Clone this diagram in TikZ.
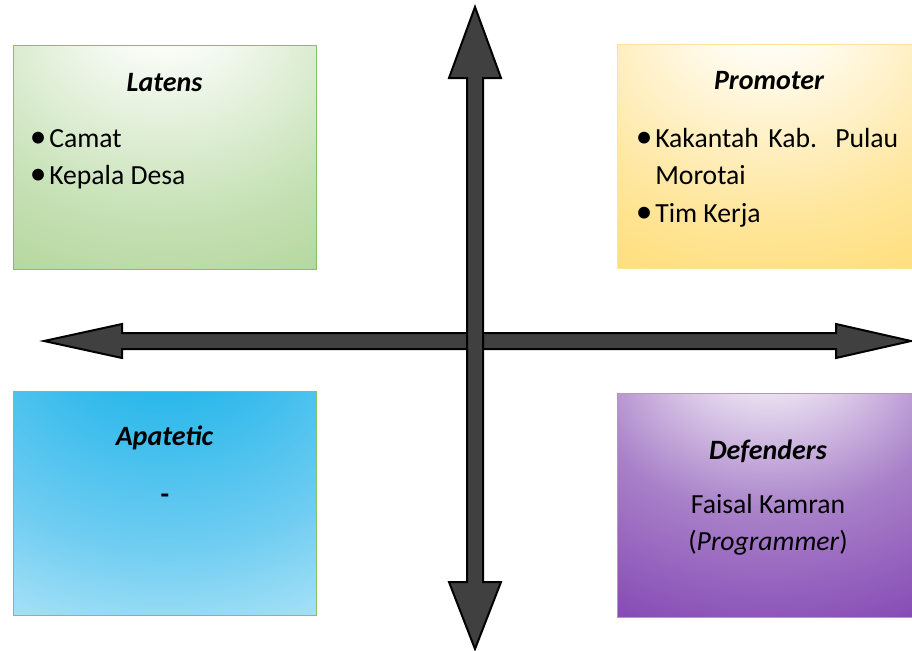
\documentclass[tikz,border=0pt]{standalone}
\usepackage{fontspec}
\setmainfont{Carlito}
\usepackage{tikz}

\definecolor{latgreen}{HTML}{A6CF8A}
\definecolor{latmid}{HTML}{C6E1B5}
\definecolor{boxgreen}{HTML}{86C060}
\definecolor{promgold}{HTML}{FFD75E}
\definecolor{prommid}{HTML}{FFE69C}
\definecolor{promline}{HTML}{FFE49A}
\definecolor{apblue}{HTML}{1FB4EA}
\definecolor{apmid}{HTML}{70CDF1}
\definecolor{aplight}{HTML}{C8EDFB}
\definecolor{defpurple}{HTML}{7232A2}
\definecolor{defmid}{HTML}{A880C8}
\definecolor{defdeep}{HTML}{8448B4}
\definecolor{axisgray}{HTML}{404040}

\pgfdeclareradialshading{latensshade}{\pgfpoint{0bp}{35bp}}{color(0bp)=(white); color(5bp)=(white); color(36bp)=(latmid); color(62bp)=(latgreen); color(100bp)=(latgreen)}
\pgfdeclareradialshading{promshade}{\pgfpoint{0bp}{35bp}}{color(0bp)=(white); color(5bp)=(white); color(36bp)=(prommid); color(62bp)=(promgold); color(100bp)=(promgold)}
\pgfdeclareradialshading{apshade}{\pgfpoint{0bp}{45bp}}{color(0bp)=(apblue); color(10bp)=(apblue); color(38bp)=(apmid); color(62bp)=(aplight); color(82bp)=(white); color(100bp)=(white)}
\pgfdeclareradialshading{defshade}{\pgfpoint{0bp}{40bp}}{color(0bp)=(white); color(4bp)=(white); color(30bp)=(defmid); color(52bp)=(defdeep); color(72bp)=(defpurple); color(100bp)=(defpurple)}

\newcommand{\bitem}[1]{\hangindent=12pt\hangafter=1\noindent\makebox[12pt][l]{\hspace*{-2.5pt}\fontsize{25}{25}\selectfont\textbullet}#1\par}

\begin{document}
\begin{tikzpicture}[x=0.75pt, y=-0.75pt,
  quad/.style={draw=boxgreen, line width=0.75pt, minimum width=227.25pt, minimum height=168pt, inner sep=0pt},
  title/.style={font=\fontsize{21}{28}\selectfont\bfseries\itshape, anchor=base, inner sep=0pt},
  body/.style={font=\fontsize{20.75}{28.2}\selectfont, inner sep=0pt},
  list/.style={body, anchor=base west, text width=194.25pt, align=justify},
  axis/.style={fill=axisgray, draw=black, line width=1.5pt, line join=miter}]
\useasboundingbox (0,0) rectangle (912,650);
\clip (0,0) rectangle (912,650);

\node[quad, shading=latensshade] (latens) at (164.5,157) {};
\node[quad, shading=promshade, draw=promline] (promoter) at (768.5,156) {};
\node[quad, shading=apshade] (apatetic) at (164.5,503.5) {};
\node[quad, shading=defshade] (defenders) at (768.5,505.5) {};

\node[title] (latenstitle) at (164.5,91) {Latens};
\node[list] (latenslist) at (33,147) {\bitem{Camat}\bitem{Kepala Desa}};

\node[title] (promtitle) at (769,89) {Promoter};
\node[list] (promlist) at (639,147)
{\hyphenpenalty=10000 \bitem{Kakantah Kab. Pulau \mbox{Morotai}}\bitem{Tim Kerja}};

\node[title] (aptitle) at (164.5,445) {Apatetic};
\node[body, anchor=base, font=\fontsize{21}{28}\selectfont\bfseries] (apdash) at (165,503) {-};

\node[title] (deftitle) at (768,459) {Defenders};
\node[body, anchor=base] (defname) at (768,513) {Faisal Kamran};
\node[body, anchor=base] (defrole) at (768,550) {(\textit{Programmer})};

\draw[axis] (44,341) -- (122,324) -- (122,333) -- (836,333) -- (836,324) -- (911,341)
  -- (836,358) -- (836,349) -- (122,349) -- (122,358) -- cycle;
\draw[axis] (475,7) -- (501,78) -- (483,78) -- (483,582) -- (501,582) -- (475,649)
  -- (449,582) -- (467,582) -- (467,78) -- (449,78) -- cycle;
\end{tikzpicture}
\end{document}
